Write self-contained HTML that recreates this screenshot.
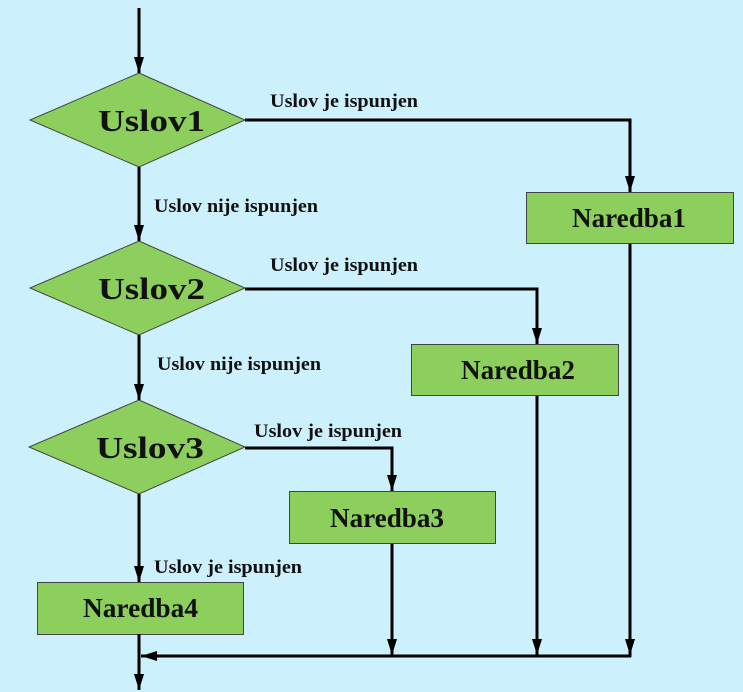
<!DOCTYPE html>
<html><head><meta charset="utf-8"><style>
html,body{margin:0;padding:0;background:#cdf0fd;}
svg{display:block}
.l{font-family:"Liberation Serif",serif;font-weight:bold;font-size:19px;fill:#111}
.n{font-family:"Liberation Serif",serif;font-weight:bold;font-size:27px;fill:#111}
.u{font-family:"Liberation Serif",serif;font-weight:bold;font-size:31px;fill:#111}
</style></head><body>
<svg width="743" height="692" viewBox="0 0 743 692" xmlns="http://www.w3.org/2000/svg">
<rect width="743" height="692" fill="#cdf0fd"/>
<defs><marker id="a" markerWidth="16" markerHeight="10" refX="16" refY="5" orient="auto" markerUnits="userSpaceOnUse" viewBox="0 0 16 10"><path d="M0,0 L16,5 L0,10 Z" fill="#000"/></marker></defs>
<g fill="#8ccf5c" stroke="#444" stroke-width="1">
<polygon points="139,73 245,120 139,167 30,120"/>
<polygon points="139,241 245,288 139,335 30,288"/>
<polygon points="139,400 245,447 139,494 29,447"/>
<rect x="526.5" y="192.5" width="207" height="51"/>
<rect x="411.5" y="344.5" width="207" height="51"/>
<rect x="289.5" y="491.5" width="206" height="52"/>
<rect x="37.5" y="582.5" width="206" height="52"/>
</g>
<g stroke="#000" stroke-width="3" fill="none">
<path d="M139,8 V73" marker-end="url(#a)"/>
<path d="M139,167 V241" marker-end="url(#a)"/>
<path d="M139,335 V400" marker-end="url(#a)"/>
<path d="M139,494 V582" marker-end="url(#a)"/>
<path d="M139,634 V690" marker-end="url(#a)"/>
<path d="M245,120 H630 V192" marker-end="url(#a)"/>
<path d="M245,289 H537 V344" marker-end="url(#a)"/>
<path d="M245,448 H392 V491" marker-end="url(#a)"/>
<path d="M630,244 V657"/>
<path d="M630,244 V655" marker-end="url(#a)"/>
<path d="M537,396 V655" marker-end="url(#a)"/>
<path d="M392,544 V655" marker-end="url(#a)"/>
<path d="M631,656 H141" marker-end="url(#a)"/>
</g>
<g>
<text class="u" x="98" y="131" textLength="107" lengthAdjust="spacingAndGlyphs">Uslov1</text>
<text class="u" x="98" y="299" textLength="107" lengthAdjust="spacingAndGlyphs">Uslov2</text>
<text class="u" x="96" y="458" textLength="108" lengthAdjust="spacingAndGlyphs">Uslov3</text>
<text class="n" x="572" y="227" textLength="114" lengthAdjust="spacingAndGlyphs">Naredba1</text>
<text class="n" x="461" y="379" textLength="114" lengthAdjust="spacingAndGlyphs">Naredba2</text>
<text class="n" x="330" y="527" textLength="114" lengthAdjust="spacingAndGlyphs">Naredba3</text>
<text class="n" x="83" y="617" textLength="115" lengthAdjust="spacingAndGlyphs">Naredba4</text>
</g>
<g class="l">
<text x="270" y="107" textLength="148" lengthAdjust="spacingAndGlyphs">Uslov je ispunjen</text>
<text x="154" y="212" textLength="164" lengthAdjust="spacingAndGlyphs">Uslov nije ispunjen</text>
<text x="270" y="271" textLength="148" lengthAdjust="spacingAndGlyphs">Uslov je ispunjen</text>
<text x="157" y="370" textLength="164" lengthAdjust="spacingAndGlyphs">Uslov nije ispunjen</text>
<text x="254" y="437" textLength="148" lengthAdjust="spacingAndGlyphs">Uslov je ispunjen</text>
<text x="154" y="573" textLength="148" lengthAdjust="spacingAndGlyphs">Uslov je ispunjen</text>
</g>
</svg>
</body></html>
